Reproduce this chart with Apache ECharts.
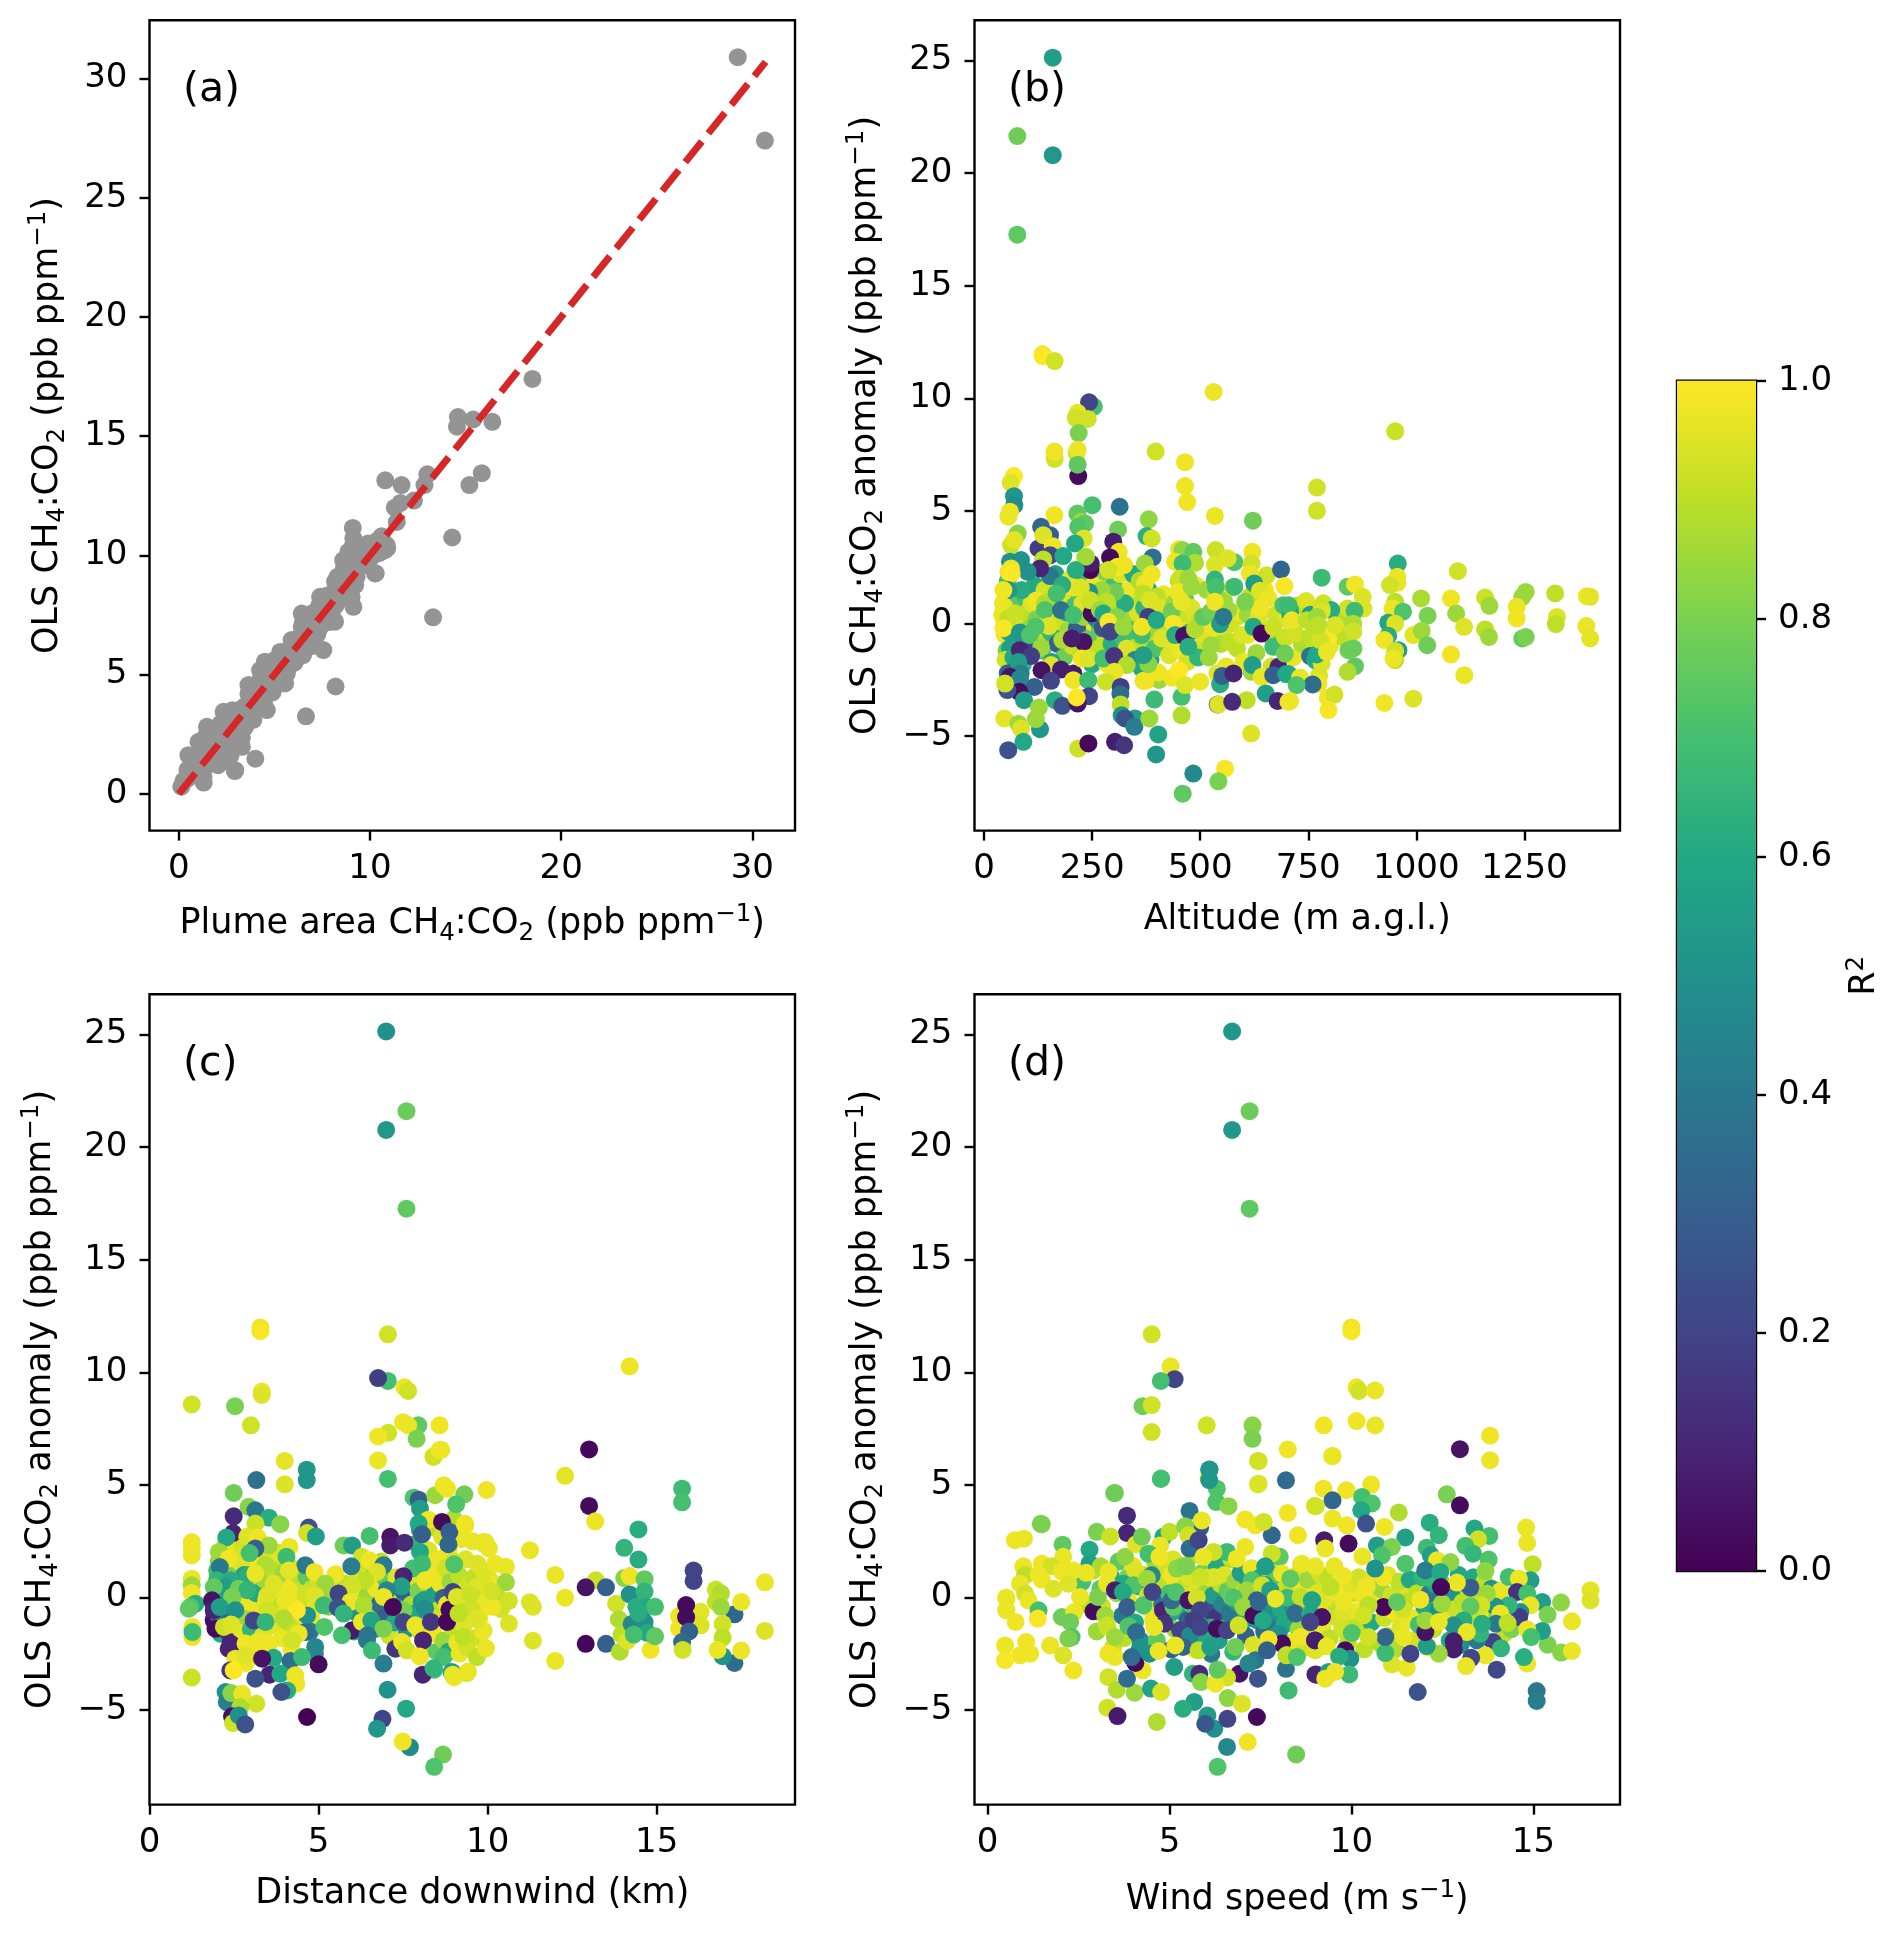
<!DOCTYPE html>
<html><head><meta charset="utf-8"><title>CH4:CO2 panels</title>
<style>html,body{margin:0;padding:0;background:#fff}#chart{width:1892px;height:1933px}</style>
<script src="https://cdn.jsdelivr.net/npm/echarts@6/dist/echarts.min.js"></script>
</head><body><div id="chart"></div>
<script>
// Panel (a): plume area ratio vs OLS ratio
const pointsA = [[.25,.55],[.45,1.0],[.7,.75],[.75,1.35],[.95,1.1],[1.0,1.7],[1.2,1.25],[1.25,2.1],[1.4,1.55],[1.4,2.4],[1.6,1.35],[1.65,2.0],[1.75,2.6],[1.9,1.5],[1.9,2.35],[2.05,1.2],[2.1,2.0],[2.2,2.95],[2.25,1.55],[2.35,2.4],[2.5,1.9],[2.55,3.1],[2.7,1.6],[2.75,2.7],[2.9,2.0],[2.9,3.35],[3.1,2.5],[3.15,3.1],[3.3,2.35],[3.35,3.6],[3.5,3.15],[3.7,3.45],[3.75,4.5],[3.9,3.1],[4.0,4.1],[4.1,3.6],[4.3,4.9],[4.45,3.8],[4.6,4.6],[4.7,5.3],[4.9,4.25],[5.0,5.6],[5.2,4.6],[5.35,5.2],[5.5,5.95],[5.7,5.25],[5.85,6.1],[6.05,5.5],[6.2,6.5],[6.35,5.95],[6.5,7.2],[6.7,6.3],[6.8,7.1],[7.0,6.2],[7.05,7.6],[7.25,6.7],[7.35,7.9],[7.55,7.3],[7.7,8.3],[7.85,7.2],[8.0,8.4],[8.2,7.9],[8.3,9.1],[8.45,8.4],[8.65,9.5],[8.8,8.7],[8.85,10.0],[9.1,9.2],[9.25,10.2],[9.45,9.5],[9.5,10.4],[9.75,9.9],[9.9,10.5],[10.1,9.95],[10.35,10.6],
[29.24,30.9],[30.66,27.4],[18.5,17.4],[16.4,15.6],[15.4,15.7],[14.6,15.8],[14.55,15.4],[15.85,13.45],[15.2,12.95],[14.3,10.75],[13.3,7.4],[13.0,13.4],[12.85,12.95],[12.3,12.3],[11.65,12.95],[10.8,13.15],[11.3,12.0],[11.4,11.4],[11.6,12.2],[10.6,10.8],[10.9,10.3],[9.1,11.15],[10.3,9.25],[9.1,10.4],[8.2,4.5],[6.65,3.25],[4.0,1.47],[2.93,.95],[1.3,.47],[.13,.3],
[9.13,10.71],[8.87,10.15],[8.6,9.8],[8.17,8.9],[7.39,8.26],[6.43,7.56],[6.43,7.0],[5.9,6.45],[5.3,5.95],[4.5,5.54],[4.25,5.19],[3.64,4.56],[3.64,4.2],[2.34,3.44],[1.47,2.81],[1.03,2.18],[.5,1.62],[.6,1.13],
[10.79,10.22],[10.87,10.43],[10.26,9.24],[9.22,8.75],[9.13,7.84],[9.04,8.26],[8.17,7.22],[7.56,6.03],[6.5,5.82],[5.56,4.63],[5.65,5.05],[4.6,3.51],[4.86,4.35],[3.47,2.81],[3.3,1.97],[2.95,.99],[2.42,1.41],[1.29,.7],
[.4,.6],[.8,.9],[1.1,1.4],[1.5,1.2],[1.8,2.2],[2.1,1.7],[2.4,2.7],[2.7,2.3],[3.0,3.3],[3.2,2.8],[3.5,3.7],[3.9,3.5],[4.2,4.5],[4.4,4.0],[4.8,5.0],[5.0,4.7],[5.3,5.5],[5.6,5.3],[6.0,6.1],[6.2,5.7],[6.6,6.8],[6.9,6.4],[7.2,7.5],[7.4,7.0],[7.8,8.1],[8.0,7.6],[8.4,8.6],[8.6,8.2],[9.0,9.5],[9.3,9.1],[9.6,10.0],[9.9,9.6],[10.2,10.5],[10.5,10.1],[8.9,9.0],[7.6,7.8],[6.3,6.4],[5.1,5.2],[3.7,3.9],[2.6,2.5],[1.7,1.6],[1.2,1.9],[2.0,2.8],[2.8,3.5],[3.3,3.2]];
// Fitted 1:1 line in panel (a)
const lineA = [[0,0],[30.7,30.7]];
// Dense cloud under the marks of panels (b), (c), (d)
const cloudB = [[42,.4,.98],[44,.9,.97],[48,-.5,.98],[52,-1.2,.8],[55,1.9,.7],[60,.8,.9],[63,-.1,.95],[66,.6,.6],[70,-.3,.55],[73,1.3,.85],[76,-1.1,.6],[80,.1,.85],[85,-.4,.65],[88,1,.9],[94,-.2,.85],[98,-1.4,.55],[102,.9,.8],[108,.2,.5],[112,1.6,.9],[116,-.8,.8],[120,.5,.93],[125,1.2,.95],[130,-.2,.6],[134,.2,.55],[138,-.9,.4],[144,.9,.85],[150,-.6,.9],[152,1.9,.93],[158,.2,.95],[163,-.3,.55],[172,.8,.88],[178,1.9,.75],[183,-.9,.9],[188,1.4,.97],[192,-.9,.55],[198,.4,.85],[202,1,.95],[208,-.3,.6],[212,1.8,.9],[218,.4,.88],[222,-.6,.72],[228,1.4,.9],[233,-.2,.85],[238,.9,.88],[243,-1.1,.9],[248,.1,.97],[252,1,.7],[258,-.6,.93],[262,1.4,.95],[268,-.2,.75],[272,.2,.9],[278,1.7,.95],[282,-1,.9],[288,.5,.93],[298,-.4,.9],[302,1,.95],[308,-.9,.95],[318,.3,.88],[322,1.4,.9],[328,-.4,.6],[338,.7,.97],[348,.1,.85],[352,-.9,.9],[358,1.1,.9],[362,-.2,.7],[378,.2,.6],[382,-.7,.5],[392,.9,.95],[398,-.4,.85],[408,.3,.9],[415,1.3,.97],[422,-.9,.97],[430,.7,.93],[438,-.5,.9],[448,.3,.9],[458,-.7,.93],[468,.3,.92],[478,-1.1,.9],[488,.4,.95],[505,-1,.93],[525,.2,.9],[555,-.6,.95],[585,.3,.93],[610,-.5,.97],[640,-.2,.95]];
const cloudC = [[1.9,-1,.03],[1.92,-.7,.08],[1.9,-.3,.12],[1.95,.1,.2],[1.95,-1.2,.02],[2,-.4,.15],[2,.3,.45],[2.02,1,.65],[2.05,1.6,.8],[2.08,.6,.6],[2.1,-1.2,.3],[2.12,-.2,.55],[2.15,.3,.7],[2.18,1.3,.85],[2.2,-.6,.6],[2.22,.9,.7],[2.25,.2,.5],[2.28,-1.1,.5],[2.3,.6,.65],[2.32,2,.9],[2.35,1.2,.75],[2.38,-.8,.4],[2.42,.4,.68],[2.45,1.5,.9],[2.48,-.2,.7],[2.52,.8,.72],[2.55,1.9,.97],[2.58,-.7,.8],[2.62,.1,.6],[2.68,1.1,.8],[2.72,-1,.9],[2.78,.6,.9],[2.82,-.1,.8],[2.88,1.4,.85],[2.92,-.7,.6],[2.98,.3,.85],[3.02,1.1,.95],[3.08,-.3,.8],[3.12,.7,.88],[3.18,-1,.97],[3.22,.2,.9],[3.28,1.2,.93],[3.32,-.4,.9],[3.38,1.9,.9],[3.42,.5,.9],[3.48,-1.3,.97],[3.52,.9,.95],[3.58,-.7,.88],[3.62,.4,.93],[3.68,1.7,.97],[3.72,-.3,.93],[3.78,.9,.92],[3.82,-1.1,.95],[3.88,.2,.88],[3.92,1.4,.95],[3.98,-.4,.93],[4.02,.7,.9],[4.08,-1.5,.97],[4.12,.1,.93],[4.18,.9,.97],[4.28,-.9,.95],[4.35,.4,.9],[4.42,-.2,.9],[4.48,.9,.97],[4.52,-1,.98],[4.6,.6,.93],[4.7,-.2,.9],[4.78,-.9,.97],[4.9,.6,.8],[4.95,-.1,.88]];
const cloudD = [[4.5,.4,.9],[4.9,-.6,.95],[5.2,.5,.97],[5.5,.5,.85],[5.7,-.1,.7],[5.9,-.5,.6],[6.1,.4,.9],[6.2,-.6,.55],[6.4,-1,.5],[6.6,-.2,.8],[6.8,-.8,.6],[7,.4,.93],[7.2,-.9,.55],[7.4,.2,.9],[7.7,-.3,.7],[7.9,.5,.8],[8.1,-.9,.8],[8.4,.9,.93],[8.6,-.3,.97],[8.8,-1.1,.9],[9,.3,.92],[9.2,-.3,.95],[9.4,.5,.97],[9.6,-.4,.9],[9.8,.6,.97],[9.95,-1,.93],[10.1,.2,.9],[10.3,-.6,.95],[10.5,.1,.97],[10.7,.7,.88],[10.9,.2,.93],[11.1,-.7,.97],[11.3,-.1,.9],[11.5,.5,.95],[11.7,-.9,.97],[11.9,.5,.88],[12.1,-.4,.93],[12.3,-1,.9],[12.5,.6,.8],[12.7,-.6,.6],[12.9,.2,.93],[13.1,-.7,.85],[13.3,.2,.97],[13.5,-.9,.97],[13.7,-.2,.88],[13.9,-.9,.6],[14.1,-.3,.9]];
// Panel (b): altitude, anomaly, R2
const pointsB = [[48,1.1,.98],[52,.6,.95],[46,.2,.97],[58,-.4,.6],[65,.1,.9],[72,-.7,.55],[78,.9,.75],[84,.3,.95],[92,-.9,.5],[60,-1.1,.55],[50,-1.6,.93],[68,-1.5,.6],[75,-2,.45],[55,-2.2,.3],[90,-1.8,.65],[95,1.2,.7],[100,.5,.9],[105,-.2,.85],[110,.9,.95],[115,-1,.2],[118,1.7,.6],[122,.2,.8],[128,-.5,.9],[135,-1.2,.75],[140,1.5,.93],[148,.4,.97],[155,-.4,.65],[160,1,.85],[165,2.2,.55],[170,-.9,.3],[175,.1,.92],[180,1.3,.95],[185,-1.5,.78],[190,.5,.6],[195,-.3,.85],[200,2,.97],[205,-1,.93],[210,.8,.7],[215,-.2,.3],[220,1.3,.72],[225,-1.3,.9],[230,.3,.85],[235,2,.68],[240,-.7,.75],[245,.8,.95],[250,-1.8,.6],[255,1.8,.97],[260,.2,.5],[265,-1.1,.9],[270,1.1,.95],[275,-.2,.25],[280,2.3,.8],[285,-1.8,.98],[290,.6,.9],[295,-.9,.62],[300,1.7,.7],[305,0,.92],[310,-1.5,.55],[315,2.2,.95],[320,-.6,.68],[325,.7,.85],[330,-1.1,.95],[335,1.5,.97],[340,-.3,.7],[345,2.2,.6],[350,-1.6,.45],[355,.5,.95],[360,1.9,.88],[365,-2,.6],[370,.7,.65],[375,-.9,.9],[380,1.5,.55],[385,-1.6,.55],[390,.2,.97],[395,-1.1,.72],[400,1.2,.9],[405,-2.5,.85],[410,.7,.95],[420,-.3,.9],[428,-1.4,.95],[435,-2.4,.98],[440,.9,.85],[445,-.2,.6],[450,1.9,.9],[455,-1.2,.98],[460,-.3,.95],[465,1.1,.75],[470,-1.7,.93],[475,-.4,.55],[480,.7,.95],[490,1.7,.97],[495,-1.5,.65],[500,.2,.9],[510,-.5,.95],[515,1.5,.85],[520,-1.5,.85],[530,-.2,.97],[535,1.3,.9],[540,-2.2,.95],[548,-.9,.88],[555,1,.85],[560,-1.9,.97],[570,0,.93],[575,1.6,.9],[585,-1.1,.9],[590,.5,.97],[600,-1.7,.97],[610,.4,.85],[615,1.2,.9],[630,-1.3,.85],[635,.3,.95],[650,1.5,.98],[660,-.5,.9],[665,-1.9,.93],[675,.4,.93],[685,-.9,.75],[700,.2,.95],[715,-1.5,.97],[725,.8,.9],[735,-.9,.88],[745,1,.95],[755,.4,.55],[765,-.9,.92],[775,-2.3,.95],[785,.9,.93],[800,-1,.97],[820,.1,.88],[830,-.6,.9],
[218,6.55,.03],[69.4,6.55,1],[61.7,6.26,.95],[69.4,5.66,.52],[70,5.26,.48],[60,4.97,.98],[56.3,4.75,.97],[250.6,5.26,.7],[313.8,5.19,.37],[162.7,4.82,.98],[216,4.89,.75],[224.4,4.52,.85],[233.6,4.45,.75],[218,4.3,.72],[310,4.18,.78],[381,4.63,.83],[465,6.11,.98],[470,5.4,.98],[534,4.78,.97],[622,4.57,.78],
[78,4,.82],[132,4.3,.33],[152.7,3.93,.3],[62.5,3.49,.92],[70,3.71,.96],[230.5,3.78,.95],[210.5,3.56,.6],[299,3.64,.08],[376,3.89,.63],[388,3.78,.93],[126,3.34,.18],[137,3.93,.95],[159,3.44,.98],[153,3.04,.22],[137,2.85,.9],[183.5,3,.6],[233.6,2.94,.9],[246,2.38,.02],[247,2.67,.08],[236,2.97,.86],[212,2.38,.62],[152.7,2.11,.4],[129.6,2.45,.1],[60,2.75,.5],[85.6,2.82,.5],[101,2.3,.5],[56.3,2.3,.97],[62.5,2.45,.98],[64,2.23,1],[312,3.19,.98],[291.5,2.94,.02],[309,2.53,1],[324,2.6,.98],[288,2.38,.93],[390,2.94,.36],[372,2.67,.85],[388,2.2,.98],[372.4,1.78,.98],[451,3.3,.97],[459,3.27,.83],[484,3.19,.75],[488,2.7,.88],[442,2.75,.98],[459,2.67,.68],[536,3.27,.92],[534,2.6,.95],[579,2.73,.72],[563.6,2.9,.95],[534,1.96,.65],[536,1.64,.7],[579,1.64,.68],[620.7,3.19,.98],[619,2.67,.93],[615,2.23,.97],[654,2.15,.93],[687,2.4,.33],[625,1.78,.55],[638,1.46,.95],[694.7,1.67,.99],[657.7,1.12,.97],[453,2,.92],[472.6,2,.85],[449.5,1.41,.98],[480,1.64,.85],
[368.5,1.34,.9],[384,1.04,.95],[326,.9,.62],[303,1.41,.78],[272,1.49,.85],[284,.97,.9],[243,1.41,.5],[206.6,1.6,.98],[224,1.6,.95],[181,1.71,.62],[87,1.49,.62],[56,1.49,.52],[45,1.49,.98],[47,.75,.97],[56,.23,.9],[45,-.2,.99],[71.7,.45,.92],[122,1.04,.98],[141,.9,.88],[168,1.34,.7],[141,.6,.72],[178,.6,.38],[227.5,.9,.95],[206.6,.38,.7],[249,.45,.03],[245,1.04,.92],[268,.6,.85],[276,.45,.6],[307,.3,.82],[287.6,.08,.99],[291.5,-.36,.2],[322,-.14,.85],[380,.3,.18],[364.7,-.51,.68],[364.7,-.14,.98],[399,.16,.6],[411,-.66,.95],[434,.53,.78],[438,0,.99],[442,-.51,.62],[462.6,-.54,.05],[472.6,-1.03,.62],[488,-.26,.88],[457,.97,.97],[507,.3,.75],[525,.53,.78],[546,-.02,.55],[525,-.96,.85],[569,-.81,.9],[596,-.51,.95],[623,-.14,.6],[642,-.44,.02],[696,-.66,.95],[669,-1.03,.68],[708,.6,.68],[692.4,.82,.7],[638.4,.67,.98],[669,-.14,.92],[565,.6,.85],[604,.97,.8],[534,.97,.98],[553.6,.3,.4],
[83,-.39,.52],[106,-.51,.72],[150,-.11,.95],[119.5,-.14,.72],[181,-.73,.88],[230,-.81,.05],[203,-.66,.08],[132,-1.07,.85],[83,-1.18,.1],[108.7,-1.44,.18],[79.5,-1.7,.55],[156.5,-1.7,.55],[155,-1.84,.95],[133,-2.07,.05],[178,-2.04,.08],[206.6,-2.21,.08],[226,-1.55,.98],[241,-1.55,.95],[276,-1.55,.7],[300.7,-1.44,.15],[330,-1.84,.88],[301.5,-2.14,.97],[281.4,-2.58,.92],[206.6,-2.51,.98],[241,-2.51,.68],[155,-2.54,.2],[116.4,-2.81,.3],[84.8,-2.21,.42],[60,-2.36,.05],[83,-2.44,.45],[81.7,-3.03,.03],[54,-2.95,.25],[48.6,-2.66,.93],[92.5,-3.4,.55],[164,-3.4,.62],[181,-3.65,.25],[243,-3.22,.2],[216.7,-3.55,.05],[214.4,-3.28,1],[316,-2.81,.18],[315.4,-3.13,.35],[316,-3.59,.9],[318.4,-4.07,.5],[349,-4.21,.55],[326,-4.21,.25],[347.8,-4.58,.42],[382.4,-4.21,.85],[457,-4.07,.88],[368.6,-2.54,.97],[374,-2.54,.98],[394,-3.37,.68],[403,-2.17,.98],[380,-1.8,.82],[368.6,-1.4,.55],[451,-2.07,1],[457,-3.25,.7],[465,-2.73,.95],[500,-2.58,.97],[546,-2.69,.62],[551,-2.32,.3],[577,-2.21,.1],[619,-2.14,.85],[620.7,-1.84,.55],[642,-2.36,.97],[681,-1.92,.1],[669,-2.29,.3],[698.5,-2.24,.58],[607.6,-3.4,.9],[651.5,-3.1,.55],[679,-3.43,.1],[704,-3.47,.98],[540.5,-3.59,.2],[542,-3.59,.95],[574,-3.47,.12],
[47,-4.21,.96],[79.5,-4.44,.85],[85.6,-4.66,.95],[129.6,-4.69,.52],[120,-4.24,.85],[127,-3.72,.85],[91,-5.25,.6],[56,-5.62,.25],[218,-5.55,.92],[241.4,-5.32,.02],[303,-5.25,.08],[324,-5.4,.15],[403,-4.92,.58],[398,-5.81,.52],[618,-4.88,.95],[484,-6.66,.47],[557.5,-6.44,.99],[459.6,-7.55,.75],[542,-7,.8],
[159,25.13,.55],[77,21.65,.78],[159,20.8,.53],[77,17.27,.75],[135.5,11.96,.96],[135.5,11.88,1],[163.4,11.66,.93],[254,9.64,.7],[243,9.83,.2],[216.5,9.36,.97],[212,9.14,.93],[240,9.09,.93],[219,8.46,.8],[531,10.29,.97],[951,8.54,.92],[397,7.64,.93],[465,7.17,.98],[214,7.58,.93],[216.5,7.72,.97],[163.4,7.31,.93],[163,7.64,.98],[216.5,7.06,.75],
[770,6.04,.93],[770,5.01,.93],[957,2.67,.62],[1096,2.33,.93],[781,2.04,.68],[841,1.64,.75],[858,1.74,.98],[956,2.08,.97],[956,1.81,.97],[939,1.71,.93],[876,1.19,.95],[1011,1.12,.87],[1080,1.12,.98],[1159,1.16,.92],[1169,.79,.85],[1253,1.41,.85],[1245,1.19,.85],[1321,1.34,.9],[1394,1.22,.98],[1402,1.19,.96],[951,.97,.9],[877.6,.67,.95],[840.6,.67,.93],[857,.57,.68],[803,.6,.62],[781,.67,.92],[945,.67,.97],[969,.53,.72],[1026,.35,.8],[1092,.45,.85],[1110.4,-.14,.95],[1232,.75,.97],[1232,.23,.98],[1325,.3,.95],[1322.5,-.02,.9],[854,0,.88],[854.5,-.36,.93],[935,.04,.58],[951,0,.95],[935,-.54,.62],[926,-.73,.98],[993,-.51,.96],[1012.5,-.32,.85],[1159,-.26,.9],[1168,-.59,.85],[1393,-.11,.97],[1402,-.66,.96],[1025,-.96,.78],[1245,-.66,.75],[1253,-.59,.8],[854.5,-1.1,.77],[843,-1.18,.77],[958.5,-1.18,.55],[951,-1.21,.93],[951,-1.62,.9],[947,-1.55,.97],[1080,-1.37,.98],[1111,-2.29,.97],[858,-1.89,.75],[841,-2.14,.88],[754,-1.44,.38],[766,-1.62,.6],[781,-1.77,.95],[769.6,-1.37,.6],[704,-2.24,.6],[731,-2.39,.97],[773.5,-2.66,.98],[760,-2.7,.35],[723,-2.73,.72],[708,-3.44,.98],[795,-3.3,.98],[810.5,-3.15,.93],[796.6,-3.84,.99],[926,-3.52,.98],[993,-3.33,.95],[696,-.59,.92],[720,-.44,.93],[696,-1.33,.78],[708,.45,.6],[704,.82,.68],[712,.15,.97],[796.6,-.66,.99],[754,-.59,.9],[777.4,-.73,.93],[793,-1.25,.97],[746.5,.15,.9],[781,.53,.95],[770,.3,.85],[812,-.07,.95],[773.5,-.07,.9]];
// Panel (c): distance downwind, anomaly, R2
const pointsC = [[1.95,.5,.65],[1.95,-.3,.1],[2,1.2,.7],[2,-1,.05],[2.05,.2,.3],[2.05,-.8,.4],[2.1,1.8,.88],[2.1,-1.6,.6],[2.15,.9,.78],[2.15,-.1,.5],[2.2,2.2,.9],[2.2,.4,.6],[2.25,-.7,.35],[2.3,1.4,.95],[2.3,-1.5,.15],[2.35,.7,.65],[2.35,-.3,.45],[2.4,1.9,.93],[2.4,-2,.1],[2.45,.1,.85],[2.5,1.1,.8],[2.5,-1.1,.93],[2.55,2.4,.97],[2.55,-.4,.7],[2.6,.6,.9],[2.6,-2.5,.1],[2.65,1.6,.95],[2.7,-1.4,.97],[2.75,.3,.72],[2.75,2.3,.93],[2.8,-.8,.85],[2.8,1,.55],[2.85,-2.9,.97],[2.9,1.9,.95],[2.95,-.2,.97],[3,.7,.9],[3,-1.4,.65],[3.05,2.7,.95],[3.1,-2.5,.98],[3.15,.2,.6],[3.2,1.5,.97],[3.25,-.7,.97],[3.3,2.4,.9],[3.35,-1.7,.95],[3.4,.8,.85],[3.45,-.1,.97],[3.5,1.7,.93],[3.55,-2.6,.6],[3.6,0,.97],[3.65,1.2,.9],[3.7,-1.2,.95],[3.75,-.4,.9],[3.8,2,.95],[3.85,.6,.93],[3.9,-1.8,.97],[3.95,1.1,.85],[4,-.6,.95],[4.05,.3,.98],[4.1,-1.1,.9],[4.15,1.4,.96],[4.2,-2.3,.98],[4.25,.6,.98],[4.3,-.4,.97],[4.4,1,.9],[4.45,-1.4,.92],[4.5,.3,.93],[4.55,-.8,.97],[4.65,.9,.75],[4.75,-1.5,.4],[4.8,.4,.9],[4.85,-.5,.97],[5,.7,.93],[5.05,-.3,.95],[5.2,.1,.85],[5.3,-.4,.8],[5.4,.6,.95],
[5.8,.6,.9],[5.85,-.5,.75],[6,.2,.92],[6.05,-1.5,.6],[6.1,1.2,.95],[6.15,-.7,.5],[6.2,.5,.97],[6.3,-1.1,.7],[6.4,1.4,.93],[6.45,.1,.85],[6.5,-.6,.93],[6.6,.9,.8],[6.65,-1.4,.55],[6.7,.4,.97],[6.8,-.3,.35],[6.85,1.6,.9],[6.95,-.9,.3],[7,.8,.75],[7.1,-1.7,.93],[7.15,.2,.9],[7.25,-1.1,.6],[7.3,.9,.95],[7.35,-.4,.55],[7.4,-2.2,.9],[7.5,.3,.3],[7.6,-1.4,.5],[7.7,.7,.95],[7.75,-.3,.88],
[7.8,1.3,.7],[7.85,-.7,.6],[7.9,2.4,.65],[7.95,.3,.8],[8,3,.45],[8,-1.5,.93],[8.05,-.2,.5],[8.1,1.6,.97],[8.15,-2.3,.85],[8.2,.6,.88],[8.25,2.1,.95],[8.3,-.5,.9],[8.35,1.1,.97],[8.4,-1.6,.98],[8.45,.2,.55],[8.45,3.1,.9],[8.5,-2.4,.75],[8.55,1.7,.97],[8.6,-.9,.93],[8.6,.6,.97],[8.65,2.7,.95],[8.7,-1.9,.85],[8.7,0,.3],[8.75,1.3,.93],[8.8,-.3,.98],[8.85,2.1,.97],[8.85,-2.4,.6],[8.9,.7,.85],[8.95,-1.3,.9],[9,1.6,.93],[9,3.5,.88],[9.05,-.2,.97],[9.1,-2,.97],[9.15,1,.9],[9.2,2.6,.97],[9.25,.2,.9],[9.3,-1.2,.95],[9.35,1.7,.95],[9.4,-.6,.85],[9.45,.6,.93],[9.5,-1.8,.95],[9.55,2.5,.97],[9.6,.9,.9],[9.65,-.1,.92],[9.7,1.5,.95],[9.75,-.9,.97],[9.8,.4,.97],[9.9,1.1,.95],[9.95,-.4,.97],[10,.2,.92],[10.05,.8,.95],[10.1,-.2,.9],[10.2,.6,.97],[10.3,0,.9],[10.4,-.5,.93],
[7,25.14,.5],[7.6,21.6,.77],[7,20.77,.53],[7.6,17.27,.75],[3.28,12,.98],[3.28,11.83,.99],[7.05,11.69,.93],[7.05,9.62,.7],[6.76,9.75,.18],[7.54,9.34,.97],[7.65,9.18,.93],[3.32,9.15,.97],[3.32,9,.95],[1.25,8.58,.93],[2.53,8.5,.8],[14.2,10.27,.98],[3,7.65,.93],[7.95,7.65,.75],[7.5,7.79,.98],[7.65,7.65,.97],[8.58,7.65,.98],[7.9,7.05,.8],[7.06,7.32,.93],[6.76,7.16,.98],[13,6.58,.02],[8.63,6.56,.98],[8.4,6.28,.98],[6.76,6.09,.97],[4,6.07,.96],[4.65,5.68,.52],[4.65,5.22,.52],[4,5.03,.95],[3.16,5.22,.37],[7.05,5.27,.7],[12.29,5.41,.96],[9.97,4.78,.98],[15.75,4.84,.68],[15.75,4.23,.7],[13,4.07,.03],[13.18,3.39,.97],[14.46,3.03,.62],[14.04,2.21,.65],[14.46,1.69,.62],[16.09,1.2,.2],[16.09,.74,.2],[14.04,.87,.82],[14.2,.96,.98],[13.2,.77,.92],[12.9,.46,.05],[13.5,.46,.3],[12,1.01,.97],[11.25,2.1,.97],[12.29,0,.97],[11.25,-.2,.95],[11.34,-.41,.95],[10.63,-1.15,.95],[11.34,-1.91,.95],[12,-2.81,.97],[12.9,-2.05,.02],[13.5,-2.05,.3],[18.2,.68,.97],[18.2,-1.48,.95],[17.3,-.74,.33],[17.5,-.19,.97],[17.3,-2.9,.35],[17.5,-2.35,.97],[16.75,.36,.92],[16.9,.19,.88],[16.75,-.19,.9],[16.9,-.41,.85],[16.95,-1.17,.93],[16.95,-1.78,.9],[16.95,-2.6,.5],[16.8,-2.32,.97],[16.3,-.63,.96],[16.3,-1.23,.95],[15.66,-.82,.97],[15.66,-1.37,.98],[15.87,-.33,.03],[15.87,-.87,.03],[15.96,-1.5,.3],[15.75,-1.97,.35],[15.77,-2.32,.93],
[13.8,-.27,.93],[13.88,-.96,.88],[13.96,-1.64,.9],[13.91,-2.4,.88],[14.2,.14,.5],[14.4,-.41,.62],[14.26,-1.17,.45],[14.13,-1.91,.95],[14.64,.82,.75],[14.64,.27,.65],[14.68,-.41,.6],[14.64,-1.09,.5],[14.72,-1.56,.6],[14.95,-.41,.7],[14.82,-2.32,.98],[14.95,-1.72,.75],[14.46,-.68,.62],[14.32,-1.64,.7],
[1.25,2.47,.98],[1.25,2.18,.98],[1.25,1.88,.97],[1.25,.84,.97],[1.25,.55,.85],[1.25,.21,.98],[1.36,-.27,.62],[1.21,-.42,.72],[1.16,-.49,.75],[1.27,-1.75,.98],[1.27,-1.3,.97],[1.27,-1.53,.68],[1.25,-3.55,.92],
[2.49,4.65,.78],[2.93,4.03,.82],[2.49,3.61,.12],[2.47,2.87,.1],[2.27,2.67,.6],[3.13,3.88,.4],[3.53,3.55,.62],[3.87,3.26,.82],[3.13,3.29,.92],[4.71,3.11,.25],[4.66,2.87,.93],[4.92,2.72,.55],[2.89,2.7,.95],[3.2,2.67,.98],[3.53,2.32,.85],[3.13,2.18,.3],[2.96,1.98,.7],[4.14,2.25,.97],[4.05,1.81,.68],[2.05,2.03,.85],[2.34,1.73,.98],[2.08,1.36,.4],[4.61,1.44,.4],[4.88,1.14,.98],[4.12,1.21,.96],[3.43,1.44,.88],[5.5,1.04,.98],[5.2,.62,.85],[2.91,.99,.62],[2,.77,.65],[2.39,.77,.62],[2.25,.47,.55],[1.9,.47,.75],[2.64,.4,.78],[2.89,.33,.65],[3.13,1.07,.97],[3.67,.62,.95],[4.17,.25,.97],[4.61,.18,.93],[4.9,.1,.95],[3.48,.1,.95],[1.85,-.12,.05],[2.44,.03,.8],[1.9,-.56,.1],[2.08,-.42,.55],[2.54,-.56,.5],[3.48,-.56,.93],[4.02,-.12,.97],[4.66,-.79,.5],[4.36,-.56,1],[5.15,-.34,.68],[3.08,-1.01,.2],[3.43,-1.08,.65],[1.95,-1.38,.03],[2.2,-1.3,.92],[2.42,-1.19,.95],[3.97,-.93,.88],[5.17,-1.3,.72],[4.61,-1.53,.35],[4.41,-1.6,.97],[4.22,-1.9,.93],[2.34,-2.27,.1],[2.84,-2.04,.98],[3.18,-1.97,.98],[3.53,-2.04,.98],[4.9,-2.19,.45],[4.89,-2.49,.45],[3.67,-2.67,.6],[4.17,-2.81,.35],[4.51,-2.64,.68],[5,-2.96,.03],[2.54,-2.71,.97],[2.84,-2.56,.95],[2.39,-3.23,.15],[2.49,-3.23,1],[3.33,-2.71,.05],[3.55,-3.42,.1],[3.13,-3.6,.25],[3.87,-3.38,.6],[4.31,-3.45,.97],[4.34,-3.82,.98],[4.07,-4.12,.62],[3.9,-4.19,.25],[2.25,-4.19,.5],[2.29,-4.64,.42],[2.42,-4.24,.82],[2.74,-4.27,.97],[3.16,-4.71,.93],[2.69,-4.86,.88],[2.44,-5.27,.05],[2.47,-5.57,.93],[2.64,-5.23,.5],[2.83,-5.63,.25],[4.66,-5.3,0],
[5.74,2.32,.78],[5.99,2.32,.55],[6.51,2.74,.7],[7.12,2.7,.05],[7.12,2.32,.07],[7.54,2.44,.12],[8.4,6.25,.93],[8.58,6.55,.98],[7.81,4.44,.72],[7.96,4.35,.3],[8.45,4.55,.85],[8.7,4.99,.97],[8.8,4.84,.98],[9.31,4.59,.78],[9.07,4.15,.72],[8,3.95,.55],[8.25,3.46,.98],[7.96,3.29,.6],[8.06,2.81,.3],[8.65,3.36,.03],[8.87,2.92,.3],[8.84,2.37,.33],[9.34,3.21,.97],[9.88,2.4,.95],[9.93,2.47,.97],[8,2.03,.6],[8.06,1.51,.68],[9.01,1.48,.72],[6.28,1.81,.93],[6.51,1.66,.98],[6.92,1.44,.42],[5.97,1.39,.42],[6.73,1.14,.95],[6.38,.77,.9],[7.51,.95,.1],[7.45,.5,.55],[7.02,.33,.45],[8.15,.77,.98],[5.99,.55,.93],[5.59,.18,.2],[5.94,-.19,.97],[5.57,-.44,.25],[5.74,-.71,.65],[6.33,-.34,.88],[6.92,.03,.97],[7.51,-.56,.8],[7.2,-.42,.02],[8.14,-.09,.55],[8.15,-.49,.48],[8.97,.25,.2],[8.87,-.53,.02],[9.09,.03,.95],[9.24,-.71,.95],[9.53,-.49,.93],[9.88,.03,.97],[9.68,.47,.95],[5.99,-1.45,.07],[5.69,-1.67,.7],[6.28,-1.08,.97],[6.56,-1.01,.58],[6.92,-1.38,.8],[6.45,-1.67,.38],[6.43,-1.9,.4],[6.58,-2.34,.68],[7.27,-2.27,.15],[7.47,-1.97,.97],[7.51,-1.08,.2],[7.86,-1.23,.97],[8.32,-1.08,.15],[8.8,-1.08,.02],[8.09,-1.9,.1],[7.61,-2.34,.93],[7.99,-2.61,.98],[8.7,-2.64,.7],[8.42,-3.2,.7],[8.94,-3.3,.55],[8.08,-3.42,.1],[9.01,-3.53,.98],[9.39,-3.35,.95],[9.17,-2.49,.97],[9.39,-2.19,.93],[9.88,-1.45,.98],[9.93,-2.27,.97],[9.68,-2.64,.9],[6.92,-2.93,.42],[7.04,-4.09,.5],[7.59,-4.93,.6],[6.89,-5.38,.2],[6.73,-5.82,.52],[7.7,-6.64,.47],[7.49,-6.39,.98],[8.68,-6.97,.78],[8.42,-7.51,.72],[9.14,-.71,.9],[9.29,-1.75,.9],[9.73,-1.75,.92],
[9.33,3.28,.98],[9.86,2.46,.97],[10.04,2.19,.97],[10.54,1.37,.97],[10.22,1.5,.97],[10.54,.68,.85],[10.63,-.14,.93],[10.13,-.41,.98],[9.86,-1.5,.97],[9.95,-2.24,.97],[9.42,-3.28,.97],[8.94,-3.33,.55],[8.97,-3.42,.97],[8.4,-3.14,.65],[9.86,.68,.95],[10.13,.27,.93],[9.5,.14,.92],[9.68,-.96,.95]];
// Panel (d): wind speed, anomaly, R2
const pointsD = [[2.6,.7,.7],[2.7,-.3,.9],[2.9,1.2,.9],[3,-1.5,.85],[3.1,.4,.75],[3.15,-.4,.92],[3.3,-1.3,.95],[3.4,.9,.6],[3.45,-2.2,.93],[3.55,.2,.85],[3.6,1.6,.75],[3.7,-.8,.4],[3.75,-1.8,.9],[3.85,.9,.8],[3.9,-.2,.97],[4,1.4,.97],[4.05,-1.1,.6],[4.15,.5,.55],[4.2,-1.9,.5],[4.3,1,.9],[4.35,-.4,.95],[4.4,.1,.93],[4.55,-1,.97],[4.6,1.6,.85],[4.65,-1.9,.75],[4.7,.6,.9],[4.8,-.3,.4],[4.9,1.2,.93],[4.95,-.9,.6],[5,.2,.7],[5.05,-2.3,.3],[5.1,1.7,.95],[5.15,-1.4,.85],[5.25,.7,.9],[5.3,-.6,.6],[5.35,1.4,.85],[5.4,-2,.95],[5.45,.1,.93],[5.5,-1,.3],[5.55,.9,.95],[5.6,-.3,.7],[5.65,1.9,.9],[5.7,-2.3,.97],[5.75,.4,.95],[5.85,-.9,.5],[5.9,1.1,.8],[5.95,-1.8,.6],[6,.2,.85],[6.05,-.4,.25],[6.1,.9,.97],[6.15,-2.5,.4],[6.2,.1,.55],[6.25,-.9,.15],[6.3,1.4,.6],[6.35,-1.9,.55],[6.4,.6,.9],[6.45,-.3,.45],[6.5,1,.95],[6.55,-1.3,.55],[6.6,.3,.75],[6.65,-.7,.4],[6.7,1.7,.9],[6.75,-2.4,.65],[6.8,.7,.85],[6.85,-.2,.55],[6.95,1.1,.55],[7,-1.1,.6],[7.05,.3,.9],[7.1,-1.7,.3],[7.15,.8,.55],[7.2,-.4,.6],[7.25,1.3,.97],[7.3,-2.1,.95],[7.35,.4,.5],[7.4,-1,.5],[7.5,.9,.6],[7.55,-.3,.55],[7.6,-1.5,.35],[7.65,.2,.85],[7.7,1.3,.9],[7.75,-.8,.5],[7.85,.7,.65],[7.9,-1.4,.4],[7.95,1,.75],[8.05,-.5,.6],[8.1,.3,.93],[8.15,-1.2,.6],[8.3,-2,.97],[8.35,.5,.9],[8.4,-.4,.5],[8.5,1,.95],[8.55,-1.4,.85],[8.65,.4,.97],[8.7,-.6,.9],[8.75,-2.2,.93],[8.8,.8,.85],[8.95,-1.5,.9],[9.05,.2,.95],[9.1,-.5,.97],[9.15,1,.93],[9.2,-1.3,.97],[9.3,0,.95],[9.35,.9,.9],[9.4,-1.8,.9],[9.5,.3,.97],[9.6,-.9,.93],[9.7,.8,.97],[9.75,-1.4,.93],[9.85,.2,.98],[9.9,-2,.9],[10,.6,.95],[10.05,-.6,.97],[10.15,-1.3,.9],[10.2,.9,.93],[10.3,.1,.97],[10.35,-2.3,.9],[10.5,.5,.9],[10.55,-1.1,.6],[10.6,.9,.95],[10.7,-.1,.97],[10.75,-2,.88],[10.8,.4,.85],[10.9,-.9,.92],[11,1,.95],[11,-1.7,.9],[11.1,.1,.93],[11.15,-.6,.97],[11.2,-2.3,.88],[11.3,.7,.9],[11.35,-1.3,.95],[11.5,-.2,.9],[11.55,-1,.97],[11.6,.8,.6],[11.7,-1.9,.93],[11.8,.2,.9],[11.85,-1.2,.7],[11.95,.9,.65],[12,-.4,.6],[12.1,-2.2,.97],[12.15,.2,.4],[12.25,-1.4,.9],[12.3,.6,.6],[12.4,-.5,.5],[12.55,.4,.93],[12.6,-1,.97],[12.7,-1.9,.6],[12.75,.1,.5],[12.85,-.5,.92],[12.95,1,.6],[13,-2.1,.5],[13.05,-.2,.9],[13.15,.6,.65],[13.25,-1.1,.97],[13.35,.9,.6],[13.45,-.7,.9],[13.5,.2,.88],[13.55,-1.3,.93],[13.65,.7,.9],[13.75,-.9,.97],[13.85,.4,.5],[14,-.8,.85],[14.1,.3,.97],[14.2,-1.6,.9],[14.4,-1.4,.8],
[8.25,6.58,.98],[7.45,6.06,.95],[7.45,5.06,.95],[8.2,5.21,.35],[4.77,5.29,.7],[6.07,5.33,.98],[6.1,5.69,.5],[6.3,4.84,.72],[6.28,4.25,.72],[6.62,4.06,.82],[3.5,4.65,.78],[5.55,3.85,.38],[7.08,3.47,.98],[8.99,4.07,.95],[8.25,3.76,.98],[8.53,2.77,.98],[3.83,3.64,.12],[3.83,2.87,.1],[1.49,3.26,.82],[.75,2.55,.98],[1,2.62,.97],[3,2.92,.8],[3.37,2.72,.92],[2.8,2.13,.6],[2.06,2.35,.75],[3.78,1.81,.83],[4.08,2.37,.95],[4.24,2.7,.78],[4.83,2.7,.6],[5,2.92,.9],[5.84,3.11,.28],[5.89,3.43,.97],[5.43,3.17,.82],[5.52,2.77,.93],[5.55,2.18,.35],[5.8,2.55,.2],[4.74,2.32,.97],[4.42,1.95,.7],[4.72,1.81,.98],[7.81,2.77,.33],[7.36,3.21,.98],[7.59,3.36,.93],[7.08,2.25,.97],[6.58,2.03,.68],[6.21,2.03,.92],[5.93,1.81,.97],[6.85,1.73,.98],[8.03,1.81,.75],[7.81,1.95,.92],[8.62,1.48,.93],[7.63,1.39,.55],[9,1.39,.97],[8.09,1.07,.97],
[.98,1.39,.97],[1.49,1.51,.98],[2.08,1.81,.97],[2.8,1.51,.55],[3.11,1.39,.87],[1.76,1.39,.93],[1.03,.99,.9],[1.4,1.02,.98],[2.04,1.14,.98],[2.36,1.21,.97],[2.71,1.1,.97],[3.32,1.14,.97],[4.06,1.21,.95],[4.51,.99,.45],[3.73,.62,.6],[4.01,.55,.72],[4.38,.84,.85],[5.06,.99,.98],[5.2,1.29,.82],[5.46,1.39,.8],[6.21,.92,.95],[5.84,.92,.92],[7.63,.55,.55],[7.26,.77,.72],[7.13,.33,.85],[6.71,.03,.78],[7.54,.55,.93],[8.32,.84,.75],[8.23,0,.68],[8.6,.03,.9],[8.92,-.12,.6],[7.4,-.12,.3],[7.77,.33,.55],[7.91,-.05,.97],
[.89,.62,.97],[1.49,.8,.98],[1.81,.4,.95],[2.22,.62,.95],[2.54,.03,.97],[1.03,.18,.93],[.52,-.05,.98],[.52,-.56,.98],[1.12,-.12,.97],[1.4,-.56,.7],[1.38,-.93,.99],[.77,-1.08,.98],[2.04,-.86,.78],[2.38,-.64,.97],[2.27,-1.08,.78],[2.91,-.61,.03],[3.23,-.79,.85],[3.03,.03,.8],[3.28,.62,.97],[3.5,.33,.08],[3.72,.25,.6],[3.84,-.42,.3],[4.28,-.34,.72],[4.53,.25,.2],[4.82,-.56,.1],[4.86,-1.16,.15],[4.58,-1.3,.97],[5.11,-.42,.75],[5.06,-.12,.35],[5.17,.25,.72],[5.52,-.12,.05],[5.75,0,.93],[5.29,-1.45,.2],[5.57,-1.67,.47],[5.84,-.56,.2],[5.66,-1,.18],[6.12,-1.33,.62],[5.84,-1.3,.2],[6.3,-1.38,.03],[6.58,-1.45,.2],[6.9,-1.23,.93],[6.76,0,.72],[7.03,-.42,.85],[7.31,-.79,.03],[7.57,-1.01,.6],[8,-1.6,.5],[8.09,-2.04,.03],[7.72,-1.85,.98],[7.45,-.19,.33],[8.46,-.71,.35],[8.87,-.71,.62],[8.87,-1.08,.2],[8.6,-1.75,.98],[9,-1.9,.1],[8.23,-2.56,.97],
[3.87,-1.27,.72],[4.08,-1.53,.35],[3.28,-1.23,.92],[3.5,-1.75,.85],[3.32,-2.49,.98],[3.5,-2.64,.97],[2.31,-1.75,.72],[2.22,-1.82,.8],[1.72,-2.12,.97],[2.08,-2.56,.95],[1.06,-1.97,.98],[.89,-2.56,.98],[1.17,-2.49,.98],[.48,-2.12,.97],[.48,-2.78,.99],[2.36,-3.23,.98],[3.32,-3.53,.93],[3.55,-4.09,.88],[4.04,-4.22,.85],[3.83,-3.6,.35],[4.26,-3.23,.97],[4.06,-2.9,.02],[4.19,-2.22,.5],[3.96,-2.64,.35],[4.45,-2.49,.5],[4.7,-2.37,.97],[5.13,-3.08,.55],[5.64,-3.38,.65],[5.82,-3.38,.12],[5.86,-3.75,.82],[4.49,-4.04,.58],[4.77,-4.19,.95],[5.68,-4.63,.55],[5.37,-4.93,.62],[3.29,-4.89,.93],[3.57,-5.26,.07],[4.65,-5.52,.88],[6.23,-5.82,.5],[6.04,-5.23,.55],[5.98,-5.6,.28],[6.59,-5.38,.2],[7.4,-5.3,.02],[6.58,-6.63,.47],[7.15,-6.41,.98],[8.48,-6.96,.78],[6.32,-7.51,.72],[6.6,-4.46,.83],[6.99,-4.71,.95],[8.27,-4.12,.68],[7.43,-3.6,.25],[8.2,-3.16,.38],[9.01,-3.41,.1],[6.92,-3.38,.05],[6.58,-3.55,.93],[6.26,-3.82,.98],[6.32,-3.2,.75],[5.37,-2.19,.32],[5.16,-2.12,.97],[5.8,-2.34,.9],[6.12,-2.19,.55],[6.81,-2.19,.78],[7.36,-2.78,.4],[7.17,-2.93,.45],[7.68,-2.34,.3],[8.21,-2.56,.9],[8.5,-2.64,.72],[9,-2.34,.95],
[12.98,6.59,.05],[13.81,6.1,.97],[13.81,7.19,.98],[9.48,6.29,.96],[10.54,5.02,.98],[9.23,4.84,.98],[9.86,4.77,.98],[10.29,4.47,.7],[10.56,4.18,.72],[9.48,4.32,.33],[12.62,4.59,.8],[12.98,4.1,.03],[9.02,4.06,.93],[10.27,3.88,.6],[11.3,3.78,.88],[9.48,3.51,.97],[10.4,3.29,.25],[10.91,3.14,.98],[9.87,3.21,.98],[12.15,3.33,.62],[12.4,2.77,.65],[11.48,2.67,.57],[14.8,3.11,.97],[14.83,2.43,.97],[13.38,3.07,.6],[13.79,2.74,.7],[13.48,2.59,.93],[9.25,2.55,.08],[9.92,2.4,.03],[9.28,2.18,.97],[10.7,2.32,.55],[12.07,2.22,.68],[13.13,2.3,.7],[13.34,1.95,.66],[13.77,1.69,.72],[11.11,2.25,.8],[10.84,1.88,.72],[14.98,1.48,.9],[10.3,1.83,.97],[11.48,1.51,.72],[12.18,1.88,.55],[12.35,1.66,.97],[12.72,1.58,.83],[13.68,1.18,.83],[14.32,.92,.7],[14.92,.77,.55],[14.6,.84,.98],[12.07,.89,.67],[12.03,1.21,.42],[12.44,1.14,.6],[10.88,.89,.98],[10.65,1.29,.5],[9.78,.96,.98],[9.53,1.39,.97],[8.64,1.51,.97],[16.57,.33,.96],[16.57,-.12,.95],[15.76,-.22,.83],[15.24,-.19,.55],[15.39,-.76,.8],[16.06,-1.05,.97],[15.39,-2.09,.8],[15.76,-2.44,.82],[16.06,-2.37,.97],[15.24,-1.48,.55],[14.55,.25,.15],[14.83,.18,.7],[14.92,-.34,.97],[14.64,-.64,.5],[14.61,-.86,.18],[14.32,-.34,.65],[13.95,-.39,.5],[14.09,-.71,.97],[13.97,-1.16,.4],[14.29,-1.13,.9],[14.83,-1.41,.97],[14.94,-1.75,.7],[14.83,-2.93,.97],[14.74,-2.64,.63],[13.99,-3.2,.22],[13.89,-1.97,.2],[14.11,-2.25,.65],[13.45,-1.9,.4],[13.54,-1.6,.65],[13.59,-1.16,.62],[13.27,.44,.3],[13.72,.18,.85],[13.57,-.34,.93],[12.9,.67,.97],[12.49,-.27,.85],[12.46,.47,.02],[13.27,-.39,.75],[13.08,-1.01,.62],[12.81,-1.23,.5],[13.17,-1.53,.97],[12.81,-1.94,.08],[12.81,-2.3,.08],[13.68,-2.56,.97],[13.29,-2.67,.22],[13.15,-3.04,.97],[12.4,-2.49,.85],[12.07,-2.15,.55],[11.52,-3.11,.97],[11.62,-2.49,.2],[11.11,-2.96,.95],[10.93,-2.46,.68],[10.93,-1.75,.33],[11.43,-1.75,.97],[12.03,-1.53,.05],[12.03,-1.01,.85],[12.4,-1.08,.97],[11.89,-.09,.98],[11.41,-.52,.93],[10.88,-.42,.02],[11.25,-.19,.75],[10.47,-.34,.9],[10.33,-.79,.93],[9.78,-.64,.95],[9.78,-.19,.97],[9.42,.47,.9],[10.42,.5,.98],[8.91,-.12,.58],[8.91,-.79,.58],[9.19,-.86,.05],[8.87,-1.08,.2],[10.01,-1.57,.72],[10.47,-1.75,.93],[9,-1.9,.08],[9.32,-2.16,.97],[9.83,-2.34,.03],[9.97,-2.71,.5],[9.66,-2.61,.62],[9.94,-3.41,.68],[9.05,-3.42,.1],[9.37,-3.3,.55],[9.28,-3.6,.97],[9.55,-3.3,.98],[11.82,-4.19,.25],[15.09,-4.15,.4],[15.09,-4.59,.42],
[6.72,25.14,.52],[7.2,21.6,.77],[6.72,20.77,.53],[7.2,17.27,.75],[10,12,.98],[10,11.83,.99],[4.51,11.69,.93],[5.03,10.27,.97],[5.14,9.7,.2],[4.76,9.62,.7],[4.26,8.5,.78],[4.51,8.55,.93],[4.51,7.35,.93],[6.02,7.65,.93],[7.28,7.65,.82],[7.28,7.05,.8],[7.43,6.07,.93],[7.43,5.03,.95],[9.24,7.65,.98],[9.47,6.28,.97],[10.14,9.34,.98],[10.2,9.18,.93],[10.65,9.2,.97],[10.14,7.84,.98],[10.65,7.65,.97],[4.76,5.27,.7],[6.09,5.22,.52],[6.09,5.68,.52],[3.48,4.64,.78],[1.46,3.28,.8],[.51,0,.97],[.51,-.55,.97]];

// Axis ticks
const xTicksA = [0,10,20,30];
const yTicksA = [0,5,10,15,20,25,30];
const xTicksB = [0,250,500,750,1000,1250];
const xTicksC = [0,5,10,15];
const xTicksD = [0,5,10,15];
const yTicksAnomaly = [-5,0,5,10,15,20,25];
const colorTicks = [0,0.2,0.4,0.6,0.8,1];
const panelLetters = ['(a)','(b)','(c)','(d)'];
const viridis = ['#440154','#482475','#414487','#355f8d','#2a788e','#21918c','#22a884','#44bf70','#7ad151','#bddf26','#fde725'];

const FONT = '"DejaVu Sans"';
const TICK = 34;
const NAME = 35;
const BLACK = '#000';
const rich = {
  b:{fontFamily:FONT,fontSize:NAME,color:BLACK,lineHeight:50,verticalAlign:'middle'},
  s:{fontFamily:FONT,fontSize:24.5,color:BLACK,lineHeight:50,verticalAlign:'bottom',padding:[0,0,2,0]},
  u:{fontFamily:FONT,fontSize:24.5,color:BLACK,lineHeight:50,verticalAlign:'top',padding:[4,0,0,0]}
};
const nameOLS = '{b|OLS CH}{s|4}{b|:CO}{s|2}{b| (ppb ppm}{u|\u22121}{b|)}';
const nameAnom = '{b|OLS CH}{s|4}{b|:CO}{s|2}{b| anomaly (ppb ppm}{u|\u22121}{b|)}';
const namePlume = '{b|Plume area CH}{s|4}{b|:CO}{s|2}{b| (ppb ppm}{u|\u22121}{b|)}';
const nameWind = '{b|Wind speed (m s}{u|\u22121}{b|)}';

const grids = [
  {left:149.5,top:20.3,width:645.5,height:810.3},
  {left:974.5,top:20.3,width:645.5,height:810.3},
  {left:149.5,top:994.3,width:645.5,height:810.3},
  {left:974.5,top:994.3,width:645.5,height:810.3},
  {left:1677,top:380.8,width:79,height:1190.2}
].map(g=>Object.assign({show:true,borderColor:BLACK,borderWidth:2.4,backgroundColor:'transparent',containLabel:false},g));

const fmt = v => (v<0?'\u2212'+(-v):String(v));
function valAxis(idx,min,max,ticks,name,gap,isY,labelMargin){
  const a = {gridIndex:idx,type:'value',min,max,scale:true,
    splitLine:{show:false},
    axisLine:{show:false,onZero:false},
    axisTick:{show:true,length:10,lineStyle:{color:BLACK,width:2.4},customValues:ticks},
    axisLabel:{show:true,color:BLACK,fontFamily:FONT,fontSize:TICK,margin:labelMargin,formatter:fmt,customValues:ticks,padding:isY?[4,0,0,0]:0},
    name,nameLocation:'middle',nameGap:gap,nameTextStyle:{rich,fontFamily:FONT,fontSize:NAME,color:BLACK}};
  if(isY) a.nameRotate=90;
  return a;
}
const xAxes = [
  valAxis(0,-1.535,32.235,xTicksA,namePlume,68,false,22),
  valAxis(1,-22,1471,xTicksB,'{b|Altitude (m a.g.l.)}',64,false,22),
  valAxis(2,0,19.09,xTicksC,'{b|Distance downwind (km)}',64,false,22),
  valAxis(3,-.36,17.38,xTicksD,nameWind,70,false,22),
  {gridIndex:4,type:'category',data:['R2'],axisLine:{show:false},axisTick:{show:false},axisLabel:{show:false},splitLine:{show:false}}
];
const yAxes = [
  valAxis(0,-1.545,32.445,yTicksA,nameOLS,77,true,22),
  valAxis(1,-9.19,26.79,yTicksAnomaly,nameAnom,84,true,22),
  valAxis(2,-9.19,26.79,yTicksAnomaly,nameAnom,84,true,22),
  valAxis(3,-9.19,26.79,yTicksAnomaly,nameAnom,84,true,22),
  Object.assign(valAxis(4,0,1,colorTicks,'{b|R}{u|2}',84,true,22),{position:'right'})
];
yAxes[4].axisLabel.formatter = v => v.toFixed(1);

const scatter = (i,data,color) => ({type:'scatter',xAxisIndex:i,yAxisIndex:i,data,symbol:'circle',symbolSize:18,animation:false,progressive:0,large:false,silent:true,clip:false,emphasis:{disabled:true},itemStyle:color?{color,opacity:1}:{opacity:1}});
const stops = viridis.map((c,i)=>({offset:1-i/(viridis.length-1),color:c})).reverse();

const option = {
  backgroundColor:'#fff',animation:false,
  grid:grids,xAxis:xAxes,yAxis:yAxes,
  title:panelLetters.map((t,i)=>({text:t,left:[183,1008][i%2],top:[70,1044][i>>1],padding:0,textStyle:{fontFamily:FONT,fontSize:41,fontWeight:'normal',color:BLACK}})),
  visualMap:[{show:false,type:'continuous',seriesIndex:[1,2,3],dimension:2,min:0,max:1,inRange:{color:viridis,opacity:1}}],
  series:[
    scatter(0,pointsA,'#949494'),
    scatter(1,cloudB.concat(pointsB)),
    scatter(2,cloudC.concat(pointsC)),
    scatter(3,cloudD.concat(pointsD)),
    {type:'bar',xAxisIndex:4,yAxisIndex:4,data:[1],barWidth:'100%',silent:true,animation:false,
      itemStyle:{color:{type:'linear',x:0,y:0,x2:0,y2:1,colorStops:stops}}},
    {type:'line',xAxisIndex:0,yAxisIndex:0,data:lineA,symbol:'none',silent:true,animation:false,z:5,
      lineStyle:{color:'#d62728',width:7,type:[26.5,10.3],cap:'butt'}}
  ]
};
const chart = echarts.init(document.getElementById('chart'),null,{renderer:'canvas',width:1892,height:1933});
chart.setOption(option);
</script></body></html>
